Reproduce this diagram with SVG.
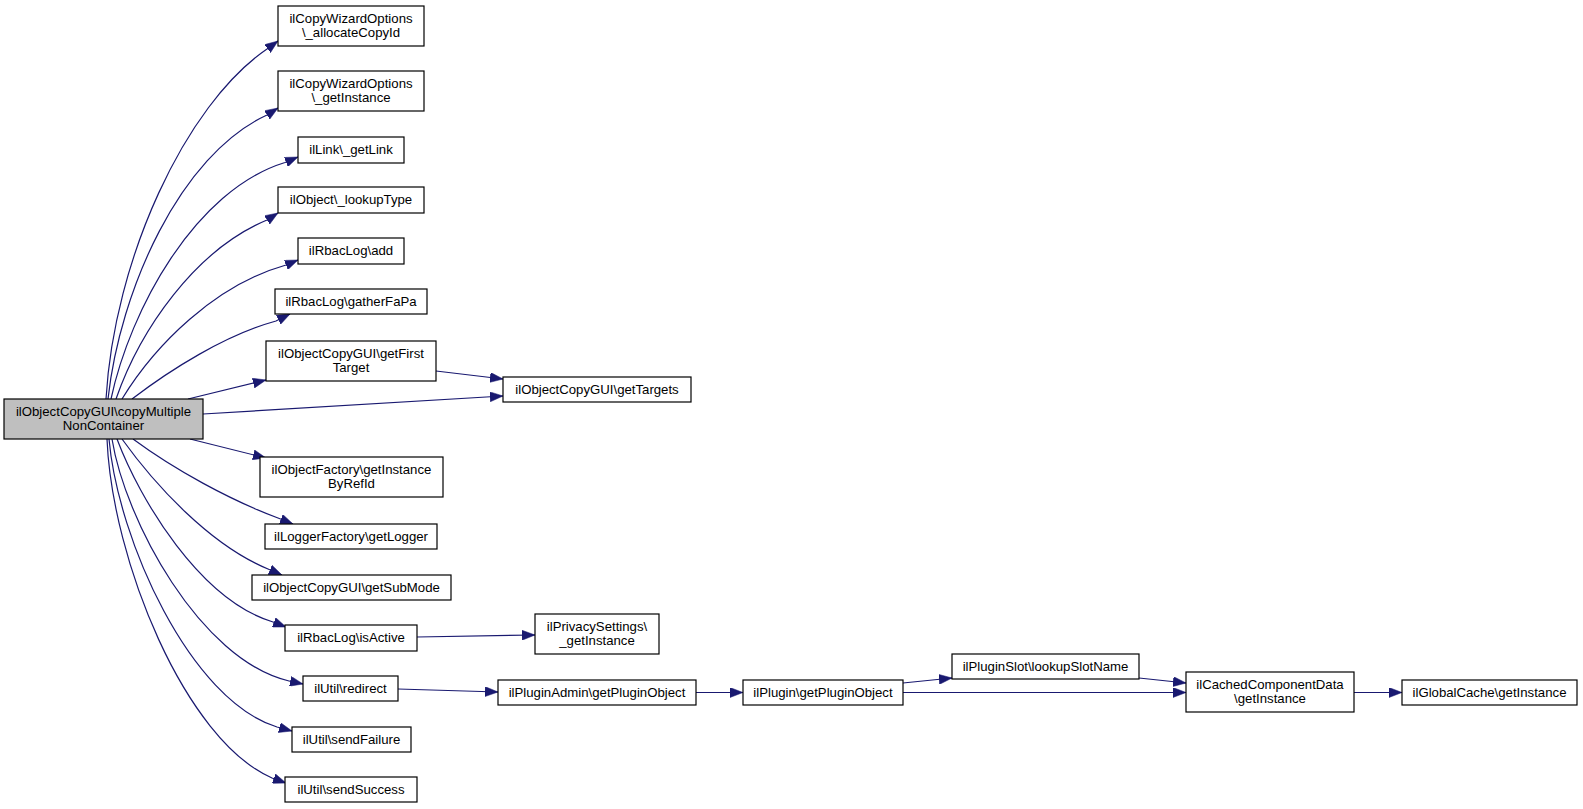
<svg xmlns="http://www.w3.org/2000/svg" width="1583" height="809" viewBox="0 0 1583 809">
<defs>
<style>
rect.box{fill:#ffffff;stroke:#000000;stroke-width:1.2}
rect.root{fill:#bfbfbf;stroke:#000000;stroke-width:1.2}
text{font-family:"Liberation Sans",Arial,Helvetica,sans-serif;font-size:13.2px;fill:#000000;text-anchor:middle}
.edges path{fill:none;stroke:#191970;stroke-width:1.2;marker-end:url(#arr)}
</style>
<marker id="arr" viewBox="0 0 13 10" refX="13" refY="5" markerWidth="13" markerHeight="10" markerUnits="userSpaceOnUse" orient="auto">
<path d="M0,0 L13,5 L0,10 z" fill="#191970" stroke="#191970" stroke-width="0.5"/>
</marker>
</defs>
<rect width="1583" height="809" fill="#ffffff"/>
<g class="edges" id="connectors">
<path d="M106,399 C114,260 185,105 267,49 L278,41"/>
<path d="M108,399 C120,290 180,155 267,115 L278,108"/>
<path d="M111,399 C130,310 195,190 285,162.5 L298,157"/>
<path d="M116,399 C140,330 195,250 267,220 L278,213"/>
<path d="M122,399 C155,345 215,285 286,265 L298,260"/>
<path d="M132,399 C170,370 225,335 276,321 L290,314"/>
<path d="M188,399 L266,380"/>
<path d="M203,414 L503,396"/>
<path d="M436,371 L503,379"/>
<path d="M190,439 L266,458"/>
<path d="M133,439 C175,470 230,500 278,518 L293,524"/>
<path d="M122,439 C155,485 210,545 268,569 L282,575"/>
<path d="M117,439 C140,500 200,600 273,622 L286,627"/>
<path d="M112,439 C125,520 200,660 289,681 L303,684"/>
<path d="M109,439 C118,540 190,700 277,727 L292,731"/>
<path d="M107,439 C112,560 185,740 272,778 L286,783"/>
<path d="M417,637 L535,635"/>
<path d="M398,689 L498,692"/>
<path d="M696,692.5 L743,692.5"/>
<path d="M903,683 L952,678"/>
<path d="M903,692.5 L1186,692.5"/>
<path d="M1139,678 L1186,683"/>
<path d="M1354,692.5 L1402,692.5"/>
</g>
<g id="node_root"><rect class="root" x="4" y="399" width="199" height="40"/><text x="103.5" y="415.5">ilObjectCopyGUI\copyMultiple</text><text x="103.5" y="429.5">NonContainer</text></g>
<g id="node_allocateCopyId"><rect class="box" x="278" y="6" width="146" height="40"/><text x="351" y="22.5">ilCopyWizardOptions</text><text x="351" y="36.5">\_allocateCopyId</text></g>
<g id="node_cwo_getInstance"><rect class="box" x="278" y="71" width="146" height="40"/><text x="351" y="87.5">ilCopyWizardOptions</text><text x="351" y="101.5">\_getInstance</text></g>
<g id="node_getLink"><rect class="box" x="298" y="137" width="106" height="26"/><text x="351" y="154">ilLink\_getLink</text></g>
<g id="node_lookupType"><rect class="box" x="278" y="187" width="146" height="26"/><text x="351" y="204">ilObject\_lookupType</text></g>
<g id="node_add"><rect class="box" x="298" y="238" width="106" height="26"/><text x="351" y="255">ilRbacLog\add</text></g>
<g id="node_gatherFaPa"><rect class="box" x="275" y="289" width="152" height="25"/><text x="351" y="305.5">ilRbacLog\gatherFaPa</text></g>
<g id="node_getFirstTarget"><rect class="box" x="266" y="341" width="170" height="40"/><text x="351" y="357.5">ilObjectCopyGUI\getFirst</text><text x="351" y="371.5">Target</text></g>
<g id="node_getTargets"><rect class="box" x="503" y="377" width="188" height="25"/><text x="597" y="393.5">ilObjectCopyGUI\getTargets</text></g>
<g id="node_getInstanceByRefId"><rect class="box" x="260" y="457" width="183" height="40"/><text x="351.5" y="473.5">ilObjectFactory\getInstance</text><text x="351.5" y="487.5">ByRefId</text></g>
<g id="node_getLogger"><rect class="box" x="265" y="524" width="172" height="25"/><text x="351" y="540.5">ilLoggerFactory\getLogger</text></g>
<g id="node_getSubMode"><rect class="box" x="252" y="575" width="199" height="25"/><text x="351.5" y="591.5">ilObjectCopyGUI\getSubMode</text></g>
<g id="node_isActive"><rect class="box" x="285" y="625" width="132" height="26"/><text x="351" y="642">ilRbacLog\isActive</text></g>
<g id="node_privacySettings"><rect class="box" x="535" y="614" width="124" height="40"/><text x="597" y="630.5">ilPrivacySettings\</text><text x="597" y="644.5">_getInstance</text></g>
<g id="node_redirect"><rect class="box" x="303" y="676" width="95" height="25"/><text x="350.5" y="692.5">ilUtil\redirect</text></g>
<g id="node_pluginAdmin"><rect class="box" x="498" y="680" width="198" height="25"/><text x="597" y="696.5">ilPluginAdmin\getPluginObject</text></g>
<g id="node_sendFailure"><rect class="box" x="292" y="727" width="119" height="25"/><text x="351.5" y="743.5">ilUtil\sendFailure</text></g>
<g id="node_sendSuccess"><rect class="box" x="285" y="777" width="132" height="25"/><text x="351" y="793.5">ilUtil\sendSuccess</text></g>
<g id="node_pluginGetPluginObject"><rect class="box" x="743" y="680" width="160" height="25"/><text x="823" y="696.5">ilPlugin\getPluginObject</text></g>
<g id="node_lookupSlotName"><rect class="box" x="952" y="654" width="187" height="25"/><text x="1045.5" y="670.5">ilPluginSlot\lookupSlotName</text></g>
<g id="node_cachedComponentData"><rect class="box" x="1186" y="672" width="168" height="40"/><text x="1270" y="688.5">ilCachedComponentData</text><text x="1270" y="702.5">\getInstance</text></g>
<g id="node_globalCache"><rect class="box" x="1402" y="680" width="175" height="25"/><text x="1489.5" y="696.5">ilGlobalCache\getInstance</text></g>
</svg>
